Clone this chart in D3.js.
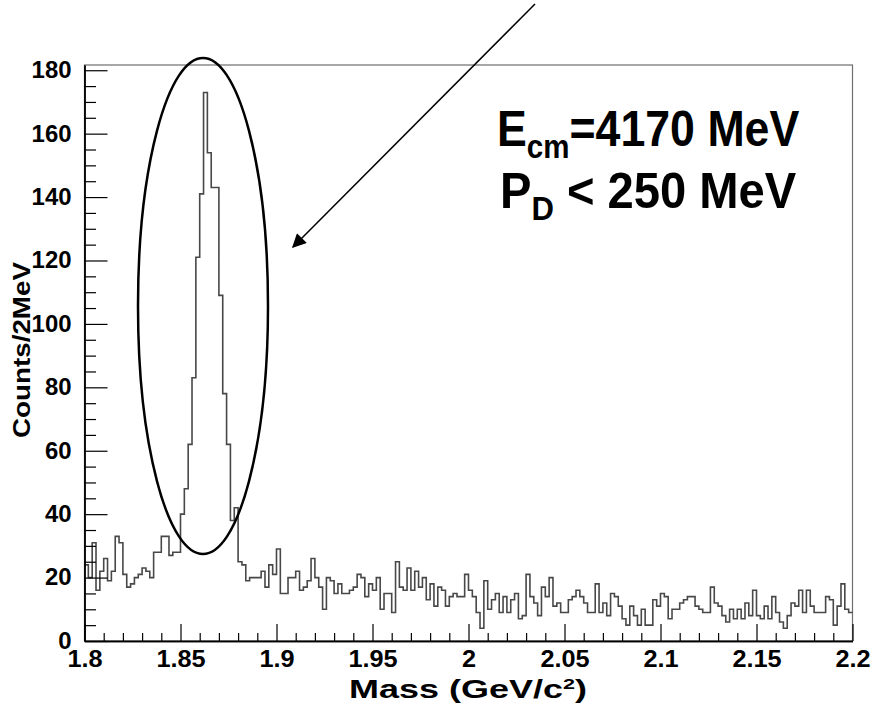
<!DOCTYPE html>
<html>
<head>
<meta charset="utf-8">
<script src="https://cdn.jsdelivr.net/npm/d3@7/dist/d3.min.js"></script>
<style>
  body { margin: 0; background: #fff; }
  text { font-family: "Liberation Sans", Arial, Helvetica, sans-serif; font-weight: bold; fill: #000; }
</style>
</head>
<body>
<div id="chart"></div>
<script>
const width = 873,
      height = 703;

// mass histogram, 1.80 - 2.20 GeV/c^2 in 2 MeV bins (200 bins)
const massMin = 1.80,
      massMax = 2.20,
      binWidth = 0.002;

const counts1800to1850 = [24, 20, 31, 16, 22, 26, 19, 22, 33, 31,
                          21, 17, 18, 20, 21, 23, 22, 20, 28, 28,
                          33, 33, 27, 28, 28];
const counts1850to1880 = [40, 48, 62, 83, 121, 141, 173, 154, 143, 143,
                          109, 78, 62, 38, 42];
const counts1880to1916 = [25, 24, 19, 20, 20, 20, 22, 17, 24, 21,
                          29, 15, 15, 20, 20, 22, 16, 17];
const counts1916to2000 = [19, 26, 20, 17, 10, 20, 19, 15, 18, 15,
                          15, 16, 17, 21, 20, 14, 18, 16, 20, 10,
                          15, 15, 9, 25, 17, 16, 23, 16, 22, 17,
                          20, 13, 18, 11, 17, 16, 11, 14, 15, 14,
                          14, 21];
const counts2000to2096 = [16, 14, 9, 4, 19, 10, 13, 15, 9, 14,
                          9, 13, 15, 7, 8, 21, 14, 12, 8, 17,
                          14, 20, 11, 12, 9, 9, 13, 14, 16, 14,
                          12, 9, 9, 18, 9, 12, 8, 15, 14, 11,
                          7, 5, 11, 8, 5, 10, 5, 5];
const counts2096to2200 = [13, 11, 15, 14, 7, 10, 10, 12, 13, 14,
                          14, 11, 10, 9, 9, 17, 12, 11, 8, 6,
                          10, 7, 10, 7, 12, 8, 16, 8, 7, 11,
                          7, 14, 9, 6, 4, 8, 12, 11, 16, 9,
                          16, 11, 9, 9, 9, 14, 13, 5, 11, 18,
                          10, 9];

const counts = [].concat(counts1800to1850, counts1850to1880, counts1880to1916,
                         counts1916to2000, counts2000to2096, counts2096to2200);

const xTickValues = [1.8, 1.85, 1.9, 1.95, 2.0, 2.05, 2.1, 2.15, 2.2];
const xTickLabels = ['1.8', '1.85', '1.9', '1.95', '2', '2.05', '2.1', '2.15', '2.2'];
const yTickValues = [0, 20, 40, 60, 80, 100, 120, 140, 160, 180];
const yTickLabels = ['0', '20', '40', '60', '80', '100', '120', '140', '160', '180'];

const svg = d3.select('#chart')
              .append('svg')
              .attr('width', width)
              .attr('height', height);

const frameLeft = 84.5, frameRight = 852.5, frameTop = 65, frameBottom = 641;

const xScale = d3.scaleLinear()
                 .domain([massMin, massMax])
                 .range([frameLeft, frameRight]);

// ROOT puts the frame top at 1.05 x the maximum
const yScale = d3.scaleLinear()
                 .domain([0, d3.max(counts) * 1.05])
                 .range([frameBottom, frameTop]);

// stretch a text to a wanted length
function fitLength(sel, len) {
  sel.attr('textLength', len).attr('lengthAdjust', 'spacingAndGlyphs');
}
function stretch(sel, k) {
  sel.each(function() {
    fitLength(d3.select(this), this.getComputedTextLength() * k);
  });
}

// frame
svg.append('rect')
   .attr('x', frameLeft)
   .attr('y', frameTop)
   .attr('width', frameRight - frameLeft)
   .attr('height', frameBottom - frameTop)
   .attr('fill', 'none')
   .attr('stroke', '#6e6e6e')
   .attr('stroke-width', 1.2);

// histogram
const points = counts.map((c, i) => [massMin + i * binWidth, c]);
points.push([massMax, counts[counts.length - 1]]);

const line = d3.line()
               .x(d => xScale(d[0]))
               .y(d => yScale(d[1]))
               .curve(d3.curveStepAfter);

svg.append('path')
   .datum(points)
   .attr('d', line)
   .attr('fill', 'none')
   .attr('stroke', '#484848')
   .attr('stroke-width', 1.6);

// y axis: major + minor ticks pointing inward
const yMinor = d3.range(0, 181, 5).filter(v => v % 20 !== 0);

const yAxis = d3.axisLeft(yScale)
                .tickValues(yTickValues)
                .tickSizeInner(-23)
                .tickSizeOuter(0)
                .tickPadding(13)
                .tickFormat((d, i) => yTickLabels[i]);

svg.append('g')
   .attr('class', 'y-axis')
   .attr('transform', `translate(${frameLeft},0)`)
   .call(yAxis);

svg.append('g')
   .attr('transform', `translate(${frameLeft},0)`)
   .call(d3.axisLeft(yScale).tickValues(yMinor).tickSizeInner(-11.5).tickSizeOuter(0).tickFormat(''));

// x axis
const xMinor = d3.range(0, 41).map(i => massMin + i * 0.01).filter((v, i) => i % 5 !== 0);

const xAxis = d3.axisBottom(xScale)
                .tickValues(xTickValues)
                .tickSizeInner(-17)
                .tickSizeOuter(0)
                .tickPadding(10)
                .tickFormat((d, i) => xTickLabels[i]);

svg.append('g')
   .attr('class', 'x-axis')
   .attr('transform', `translate(0,${frameBottom})`)
   .call(xAxis);

svg.append('g')
   .attr('transform', `translate(0,${frameBottom})`)
   .call(d3.axisBottom(xScale).tickValues(xMinor).tickSizeInner(-8).tickSizeOuter(0).tickFormat(''));

svg.selectAll('.domain').attr('stroke', '#000').attr('stroke-width', 1.4);
svg.selectAll('.tick line').attr('stroke', '#000').attr('stroke-width', 1.2);

svg.selectAll('.tick text')
   .attr('font-size', 23)
   .attr('font-family', '"Liberation Sans", Arial, sans-serif')
   .attr('font-weight', 'bold');

svg.selectAll('.x-axis .tick text').call(stretch, 1.1);
svg.selectAll('.y-axis .tick text').call(stretch, 1.04);

// axis titles
const xTitle = svg.append('g');
const xTitleText = xTitle.append('text')
                         .attr('font-size', 25);
xTitleText.append('tspan').text('Mass (GeV/c');
xTitleText.append('tspan').attr('font-size', 15).attr('dy', -9).text('2');
xTitleText.append('tspan').attr('dy', 9).text(')');

svg.append('text')
   .attr('transform', 'translate(30,350) rotate(-90)')
   .attr('text-anchor', 'middle')
   .attr('font-size', 24)
   .text('Counts/2MeV')
   .call(fitLength, 176);

// ellipse around the signal
svg.append('ellipse')
   .attr('cx', 203)
   .attr('cy', 306)
   .attr('rx', 65)
   .attr('ry', 248)
   .attr('fill', 'none')
   .attr('stroke', '#000')
   .attr('stroke-width', 2.5);

// arrow
svg.append('defs')
   .append('marker')
   .attr('id', 'head')
   .attr('viewBox', '0 0 10 10')
   .attr('refX', 9)
   .attr('refY', 5)
   .attr('markerWidth', 20)
   .attr('markerHeight', 14)
   .attr('markerUnits', 'userSpaceOnUse')
   .attr('orient', 'auto')
   .append('path')
   .attr('d', 'M0,0 L10,5 L0,10 z')
   .attr('fill', '#000');

svg.append('line')
   .attr('x1', 535)
   .attr('y1', 4)
   .attr('x2', 293)
   .attr('y2', 247)
   .attr('stroke', '#000')
   .attr('stroke-width', 1.5)
   .attr('marker-end', 'url(#head)');

// annotation
function fitWidth(g, x, baseline, w) {
  const b = g.node().getBBox();
  g.attr('transform', `translate(${x},${baseline}) scale(${w / b.width},1)`);
}

fitWidth(xTitle, 349, 698, 238);

const ecm = svg.append('g');
const ecmText = ecm.append('text').attr('font-size', 50);
ecmText.append('tspan').text('E');
ecmText.append('tspan').attr('font-size', 33).attr('dy', 12).text('cm');
ecmText.append('tspan').attr('dy', -12).text('=4170 MeV');
fitWidth(ecm, 497, 146, 303);

const pd = svg.append('g');
const pdText = pd.append('text').attr('font-size', 50);
pdText.append('tspan').text('P');
pdText.append('tspan').attr('font-size', 33).attr('dy', 12).text('D');
pdText.append('tspan').attr('dy', -12).text(' < 250 MeV');
fitWidth(pd, 500, 208, 297);
</script>
</body>
</html>
